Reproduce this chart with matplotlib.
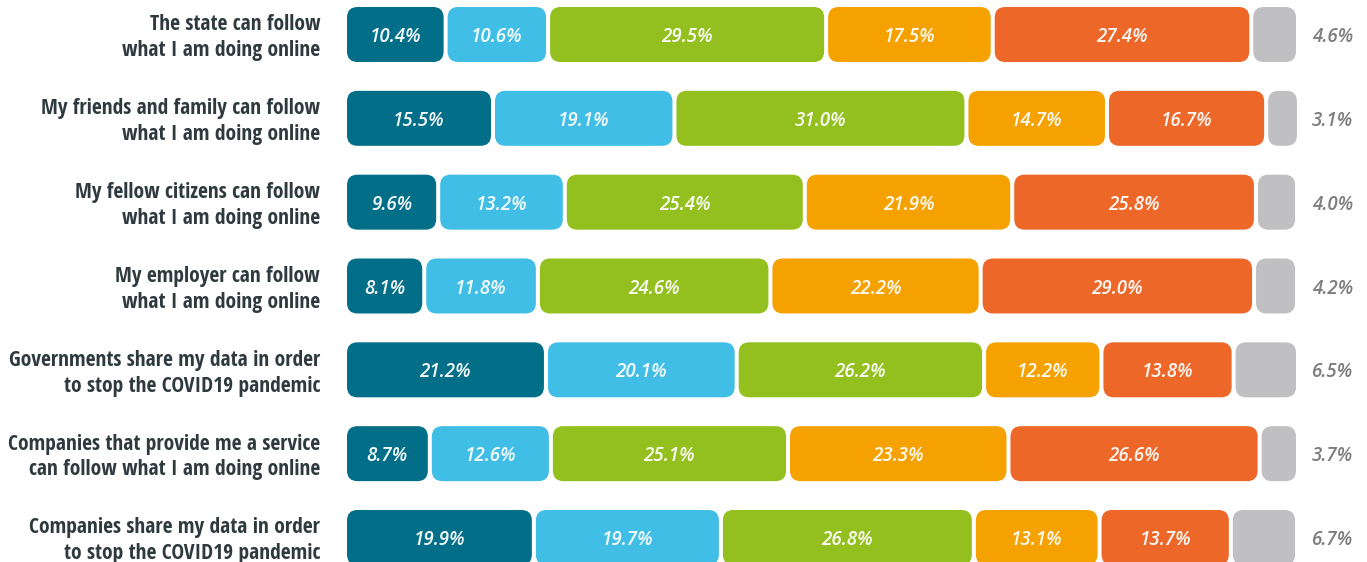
import numpy as np
import matplotlib.pyplot as plt
from matplotlib.patches import FancyBboxPatch

labels = [
    "The state can follow\nwhat I am doing online",
    "My friends and family can follow\nwhat I am doing online",
    "My fellow citizens can follow\nwhat I am doing online",
    "My employer can follow\nwhat I am doing online",
    "Governments share my data in order\nto stop the COVID19 pandemic",
    "Companies that provide me a service\ncan follow what I am doing online",
    "Companies share my data in order\nto stop the COVID19 pandemic",
]
seg1 = [10.4, 15.5, 9.6, 8.1, 21.2, 8.7, 19.9]
seg2 = [10.6, 19.1, 13.2, 11.8, 20.1, 12.6, 19.7]
seg3 = [29.5, 31.0, 25.4, 24.6, 26.2, 25.1, 26.8]
seg4 = [17.5, 14.7, 21.9, 22.2, 12.2, 23.3, 13.1]
seg5 = [27.4, 16.7, 25.8, 29.0, 13.8, 26.6, 13.7]
seg6 = [4.6, 3.1, 4.0, 4.2, 6.5, 3.7, 6.7]

colors = ["#036e87", "#41bee6", "#93c01f", "#f5a100", "#ec6728", "#c0c0c2"]

W, H = 1367, 562
px_x = 9.29          # pixels per percent
px_y = 83.83         # pixels per row
x0_px = 347
y0_px = 34.5
gap = 4 / px_x
bar_h = 55 / px_y
rad = 10.5 / px_x

fig = plt.figure(figsize=(W / 100, H / 100), dpi=100)
ax = fig.add_axes([0, 0, 1, 1])
ax.set_xlim(-x0_px / px_x, (W - x0_px) / px_x)
ax.set_ylim((H - y0_px) / px_y, -y0_px / px_y)
ax.axis("off")

fam = ["Open Sans", "DejaVu Sans"]
cond = ["Open Sans Condensed", "DejaVu Sans"]

segs = [seg1, seg2, seg3, seg4, seg5, seg6]
for i, lab in enumerate(labels):
    left = 0.0
    for k, s in enumerate(segs):
        v = s[i]
        x = left + k * gap
        p = FancyBboxPatch((x, i - bar_h / 2), v, bar_h,
                           boxstyle=f"round,pad=0,rounding_size={rad}",
                           mutation_aspect=px_x / px_y,
                           fc=colors[k], ec="none")
        ax.add_patch(p)
        if k < 5:
            ax.text(x + v / 2, i + 0.03, f"{v:.1f}%", ha="center", va="center",
                    color="white", fontsize=13.5, style="italic",
                    fontweight="semibold", fontstretch="normal", family=fam,
                    alpha=0.95)
        else:
            ax.text((1353 - x0_px) / px_x, i + 0.03, f"{v:.1f}%", ha="right",
                    va="center", color="#7d7d7f", fontsize=13.5, style="italic",
                    fontweight="semibold", fontstretch="normal", family=fam)
        left += v
    ax.text((320 - x0_px) / px_x, i + 0.04, lab, ha="right", va="center",
            color="#2f3a3f", fontsize=15.5, fontweight="bold",
            family=cond, linespacing=1.3)

fig.savefig("out.png", dpi=100)
